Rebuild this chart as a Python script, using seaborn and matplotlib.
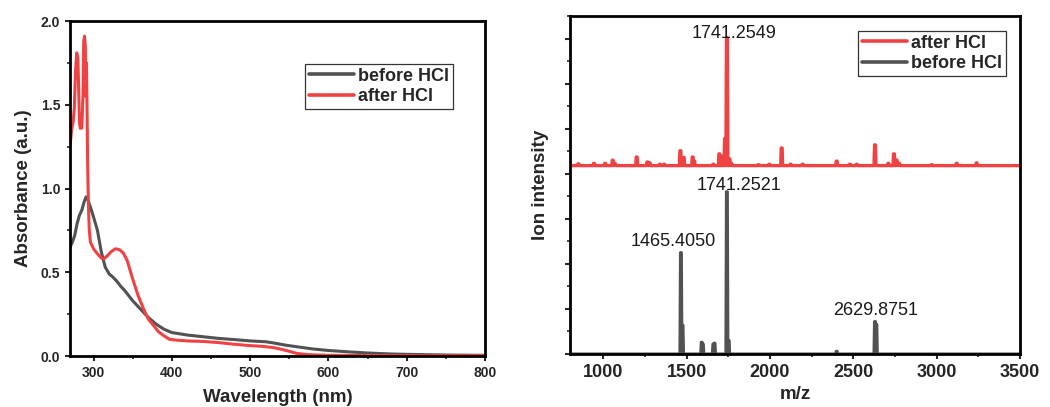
import matplotlib
matplotlib.use("Agg")
import matplotlib.pyplot as plt
import pandas as pd
import seaborn as sns
from matplotlib.ticker import MultipleLocator

# ---------------- UV-vis absorbance spectra ----------------
wl_before = [270, 273, 276, 279, 282, 285, 288, 290.5, 293, 296, 300, 305, 310,
             315, 320, 325, 330, 335, 340, 345, 350, 360, 370, 380, 390, 400,
             420, 440, 460, 480, 500, 520, 530, 545, 560, 580, 600, 625, 650,
             680, 700, 750, 800]
abs_before = [0.65, 0.68, 0.72, 0.79, 0.84, 0.87, 0.92, 0.95, 0.93, 0.89, 0.83,
              0.75, 0.62, 0.53, 0.49, 0.47, 0.445, 0.415, 0.39, 0.36, 0.33,
              0.28, 0.23, 0.19, 0.16, 0.14, 0.125, 0.115, 0.105, 0.098, 0.09,
              0.085, 0.078, 0.065, 0.055, 0.042, 0.033, 0.025, 0.018, 0.012,
              0.01, 0.006, 0.004]

wl_after = [270, 272, 274, 275.5, 277, 278.5, 280, 281, 282, 283, 285, 286.5,
            287.5, 288.5, 289.5, 290.3, 291, 291.8, 292.5, 293.5, 294.5, 296,
            300, 305, 310, 313, 318, 323, 328, 333, 338, 343, 350, 357, 364,
            370, 377, 383, 390, 397, 405, 420, 440, 460, 480, 500, 515, 530,
            540, 550, 560, 575, 600, 650, 700, 750, 800]
abs_after = [1.25, 1.35, 1.40, 1.48, 1.70, 1.81, 1.78, 1.60, 1.40, 1.36, 1.36,
             1.55, 1.88, 1.91, 1.85, 1.55, 1.75, 1.45, 1.15, 0.90, 0.76, 0.68,
             0.64, 0.61, 0.585, 0.58, 0.60, 0.625, 0.64, 0.635, 0.615, 0.57,
             0.46, 0.36, 0.28, 0.22, 0.18, 0.145, 0.12, 0.10, 0.095, 0.09,
             0.087, 0.08, 0.07, 0.062, 0.058, 0.05, 0.04, 0.028, 0.015, 0.008,
             0.004, 0.003, 0.002, 0.002, 0.002]

# ---------------- MALDI mass spectra (stick peaks) ----------------
ms_before_mz = [1465.4050, 1475, 1590, 1597, 1660, 1667, 1741.2521, 1752,
                2400, 2629.8751, 2638]
ms_before_int = [2.25, 0.64, 0.26, 0.22, 0.22, 0.24, 3.60, 0.30, 0.06, 0.72,
                 0.66]

ms_after_mz = [850, 944, 1010, 1056, 1068, 1200, 1264, 1278, 1340, 1365, 1462,
               1482, 1536, 1545, 1660, 1696, 1705, 1730, 1741.2549, 1756, 1768,
               1930, 1996, 2070, 2124, 2196, 2400, 2480, 2520, 2630, 2710, 2744,
               2760, 2775, 2970, 3120, 3240]
ms_after_int = [0.04, 0.05, 0.05, 0.12, 0.05, 0.19, 0.08, 0.06, 0.03, 0.03,
                0.33, 0.18, 0.19, 0.10, 0.03, 0.26, 0.22, 0.60, 2.84, 0.15,
                0.05, 0.02, 0.03, 0.39, 0.03, 0.03, 0.10, 0.03, 0.03, 0.46,
                0.05, 0.26, 0.12, 0.05, 0.02, 0.05, 0.06]
ms_after_offset = 4.18

# peaks that carry an m/z label
labelled_after = [1741.2549]
labelled_before = [1465.4050, 1741.2521, 2629.8751]

RED = "#F04242"
GRAY = "#525252"

sns.set_style("ticks")
plt.rcParams["font.family"] = ["Liberation Sans", "DejaVu Sans"]
plt.rcParams["axes.linewidth"] = 2.0


def stick_profile(mz, inten, base, lo=800, hi=3500, w=6.0):
    xs, ys = [lo], [base]
    for m, h in sorted(zip(mz, inten)):
        xs += [m - w, m - 0.45 * w, m + 0.45 * w, m + w]
        ys += [base, base + h, base + h, base]
    xs.append(hi)
    ys.append(base)
    return pd.DataFrame({"mz": xs, "intensity": ys})


fig = plt.figure(figsize=(10.5, 4.07), dpi=100)
ax1 = fig.add_axes([0.0667, 0.1253, 0.3952, 0.8231])
ax2 = fig.add_axes([0.5429, 0.1302, 0.4285, 0.8305])

# ---- left: absorbance ----
uv_before = pd.DataFrame({"wl": wl_before, "A": abs_before})
uv_after = pd.DataFrame({"wl": wl_after, "A": abs_after})
sns.lineplot(data=uv_before, x="wl", y="A", ax=ax1, color=GRAY, lw=2.2,
             sort=False, estimator=None, label="before HCl")
sns.lineplot(data=uv_after, x="wl", y="A", ax=ax1, color=RED, lw=2.2,
             sort=False, estimator=None, label="after HCl")
ax1.set_xlim(270, 800)
ax1.set_ylim(0, 2.0)
ax1.xaxis.set_major_locator(MultipleLocator(100))
ax1.xaxis.set_minor_locator(MultipleLocator(50))
ax1.yaxis.set_major_locator(MultipleLocator(0.5))
ax1.yaxis.set_minor_locator(MultipleLocator(0.25))
ax1.set_xlabel("Wavelength (nm)", fontsize=13.5, fontweight="bold", labelpad=7)
ax1.set_ylabel("Absorbance (a.u.)", fontsize=13.5, fontweight="bold", labelpad=6)
ax1.tick_params(which="major", direction="out", length=3.5, width=1.5,
                labelsize=10)
ax1.tick_params(which="minor", direction="out", length=2, width=1.2)
for lab in ax1.get_xticklabels() + ax1.get_yticklabels():
    lab.set_fontweight("bold")
leg1 = ax1.legend(loc="upper left", bbox_to_anchor=(0.2905, 0.8428),
                  bbox_transform=fig.transFigure, borderaxespad=0,
                  frameon=True, fancybox=False, edgecolor="#333333",
                  framealpha=1, prop={"size": 13, "weight": "bold"},
                  handlelength=2.5, handletextpad=0.25, borderpad=0.2,
                  labelspacing=0.2)
leg1.get_frame().set_linewidth(0.9)
for ln in leg1.get_lines():
    ln.set_linewidth(2.6)

# ---- right: mass spectra ----
df_after = stick_profile(ms_after_mz, ms_after_int, ms_after_offset)
df_before = stick_profile(ms_before_mz, ms_before_int, 0.0)
sns.lineplot(data=df_before, x="mz", y="intensity", ax=ax2, color=GRAY,
             lw=2.2, sort=False, estimator=None, label="before HCl")
sns.lineplot(data=df_after, x="mz", y="intensity", ax=ax2, color=RED,
             lw=2.4, sort=False, estimator=None, label="after HCl")
ax2.set_xlim(800, 3500)
ax2.set_ylim(0, 7.5)
ax2.xaxis.set_major_locator(MultipleLocator(500))
ax2.xaxis.set_minor_locator(MultipleLocator(250))
ax2.yaxis.set_major_locator(MultipleLocator(1))
ax2.yaxis.set_minor_locator(MultipleLocator(0.5))
ax2.tick_params(which="major", direction="out", length=3.5, width=1.5,
                labelsize=13, labelleft=False)
ax2.tick_params(which="minor", direction="out", length=2, width=1.2)
for lab in ax2.get_xticklabels():
    lab.set_fontweight("bold")
ax2.set_xlabel("m/z", fontsize=13.5, fontweight="bold", labelpad=4)
ax2.set_ylabel("Ion intensity", fontsize=13.5, fontweight="bold", labelpad=10)

peak_after = dict(zip(ms_after_mz, ms_after_int))
peak_before = dict(zip(ms_before_mz, ms_before_int))
offsets = {1741.2549: (5.4, 0.0), 1741.2521: (8.5, 1.2),
           1465.4050: (-5.4, 5.0), 2629.8751: (0.3, 4.8)}
for m in labelled_after:
    ax2.annotate(f"{m:.4f}", xy=(m, ms_after_offset + peak_after[m]),
                 xytext=offsets[m], textcoords="offset points",
                 ha="center", va="baseline", fontsize=13, color="#1a1a1a")
for m in labelled_before:
    ax2.annotate(f"{m:.4f}", xy=(m, peak_before[m]),
                 xytext=offsets[m], textcoords="offset points",
                 ha="center", va="baseline", fontsize=13, color="#1a1a1a")

h, l = ax2.get_legend_handles_labels()
leg2 = ax2.legend([h[1], h[0]], [l[1], l[0]], loc="upper left",
                  bbox_to_anchor=(0.8171, 0.9238),
                  bbox_transform=fig.transFigure, borderaxespad=0,
                  frameon=True, fancybox=False, edgecolor="#333333",
                  framealpha=1, prop={"size": 13, "weight": "bold"},
                  handlelength=2.5, handletextpad=0.25, borderpad=0.2,
                  labelspacing=0.2)
leg2.get_frame().set_linewidth(0.9)
for ln in leg2.get_lines():
    ln.set_linewidth(2.6)

for ax in (ax1, ax2):
    for sp in ax.spines.values():
        sp.set_visible(True)
        sp.set_color("black")
        sp.set_linewidth(2.0)

fig.savefig("out.png", dpi=100)
